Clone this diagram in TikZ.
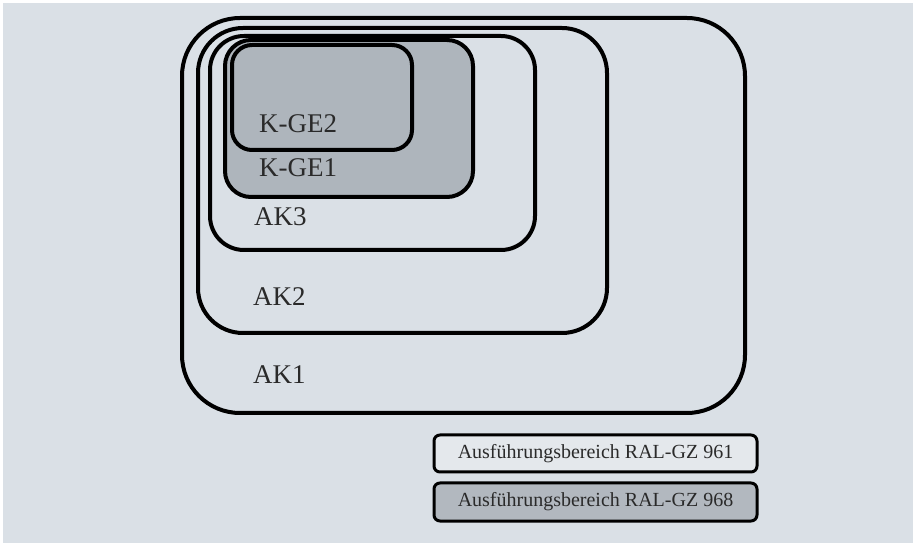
\documentclass[tikz,border=0pt]{standalone}
\usepackage{fontspec}
\setmainfont{Liberation Serif}
\definecolor{fondgris}{HTML}{DAE0E6}
\definecolor{gegris}{HTML}{AEB5BC}
\definecolor{legclair}{HTML}{E4E8EC}
\definecolor{legfonce}{HTML}{B2B8BF}
\definecolor{texte}{HTML}{2A2A2A}
\begin{document}
\begin{tikzpicture} [x=1pt,y=-1pt,
  zone/.style={line width=4pt, black},
  leg/.style={line width=3pt, black, rounded corners=6pt},
  zonetxt/.style={anchor=base west, text=texte, font=\fontsize{27}{30}\selectfont, inner sep=0pt},
  legtxt/.style={text=texte, font=\fontsize{20}{24}\selectfont, inner sep=0pt}]
	    \fill [white] (0,0) rectangle (914,545);
	    \fill [fondgris] (3,3) rectangle (913,543); % fond
	    % AK
	    \draw [zone, rounded corners=58pt] (182,18) rectangle (745,413) ;
	    \draw [zone, rounded corners=45pt] (198,28) rectangle (607,333) ;
	    \draw [zone, rounded corners=34pt] (210,36) rectangle (535,250) ;
	    % K-GE
	    \draw [zone, fill=gegris, rounded corners=26pt] (225,40) rectangle (473,197) ;
	    \draw [zone, fill=gegris, rounded corners=20pt] (232,45) rectangle (412,150) ;
	    \node [zonetxt] (kge2) at (259,133) {K-GE2};
	    \node [zonetxt] (kge1) at (259,177) {K-GE1};
	    \node [zonetxt] (ak3) at (254,226) {AK3};
	    \node [zonetxt] (ak2) at (253,306) {AK2};
	    \node [zonetxt] (ak1) at (253,384) {AK1};
	    % legende
	    \draw [leg, fill=legclair] (434,435) rectangle (757,472) ;
	    \draw [leg, fill=legfonce] (434,483) rectangle (757,521) ;
	    \node [legtxt] (leg961) at (595.5,454) {Ausführungsbereich RAL-GZ 961};
	    \node [legtxt] (leg968) at (595.5,502) {Ausführungsbereich RAL-GZ 968};
  \end{tikzpicture}
\end{document}
